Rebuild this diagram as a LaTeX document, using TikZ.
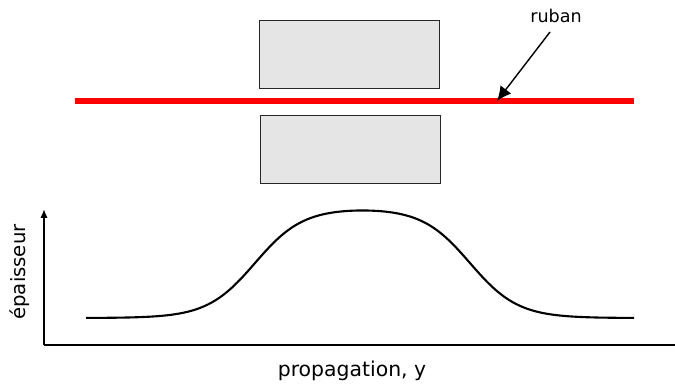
\documentclass[tikz,border=0pt]{standalone}
\usepackage{fontspec}
\setmainfont{DejaVu Sans}
\definecolor{aimantGris}{HTML}{E5E5E5}
\definecolor{rubanRouge}{HTML}{FF0000}
\usetikzlibrary{
	arrows.meta,
	positioning
}
\tikzset{
	aimant/.style={
		draw=black!85,
		fill=aimantGris,
		line width=0.7pt,
		minimum width=4.475cm,
		minimum height=1.675cm,
		inner sep=0pt
	},
	ruban/.style={
		line width=3.6pt,
		rubanRouge
	},
	fleche/.style={
		-{Latex[length=3.6mm,width=3.4mm]},
		line width=1pt
	},
	axe/.style={
		line width=1.3pt
	},
	etiquette/.style={
		font=\fontsize{14}{16}\selectfont,
		inner sep=0pt
	},
	declare function={
		marche(\t)=1/(1+exp(max(min(-\t/24,8),-8)));
	}
}
\begin{document}
\begin{tikzpicture}[x=0.025cm,y=-0.025cm]
		\useasboundingbox (0,0) rectangle (675,385);
		\node[aimant] (aimantHaut) at (349.5,54.5) {};
		\node[aimant] (aimantBas) at (350.5,149.5) {};
		\coordinate (rubanGauche) at (75,101);
		\coordinate (rubanDroite) at (634,101);
		\draw[ruban] (rubanGauche) -- (rubanDroite);
		\node[font=\fontsize{12.5}{14}\selectfont, inner sep=1pt] (labelRuban) at (556,16) {ruban};
		\coordinate (departFleche) at (550,32);
		\coordinate (pointeRuban) at (497,101);
		\draw[fleche] (departFleche) -- (pointeRuban);
		\coordinate (origine) at (44,345);
		\coordinate (hautAxe) at (44,209);
		\coordinate (finAxe) at (675,345);
		\draw[axe, -{Latex[length=2.2mm,width=1.8mm]}] (origine) -- (hautAxe);
		\draw[axe] (origine) -- (finAxe);
		\draw[line width=1.5pt, line join=round] plot[domain=86:634, samples=140, smooth]
			(\x, {318-110*(marche(\x-255)-marche(\x-470))});
		\node[etiquette, rotate=90] (labelEpaisseur) at (20,272) {épaisseur};
		\node[etiquette, font=\fontsize{14.5}{16}\selectfont] (labelPropagation) at (352,371) {propagation, y};
	\end{tikzpicture}
\end{document}
